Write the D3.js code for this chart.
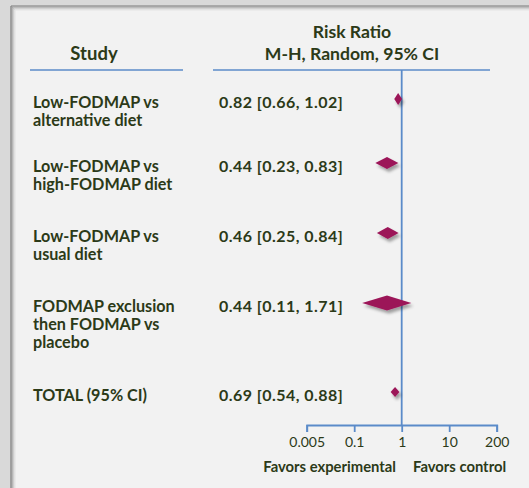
<!DOCTYPE html>
<html>
<head>
<meta charset="utf-8">
<script src="https://cdn.jsdelivr.net/npm/d3@7"></script>
<style>
  body { margin: 0; background: #d9d9d9; }
  svg { display: block; font-family: Lato, "Open Sans", sans-serif; }
</style>
</head>
<body>
<svg id="chart" width="529" height="488"></svg>
<script>
// data
let studies = [
  ["Low-FODMAP vs", "alternative diet"],
  ["Low-FODMAP vs", "high-FODMAP diet"],
  ["Low-FODMAP vs", "usual diet"],
  ["FODMAP exclusion", "then FODMAP vs", "placebo"],
  ["TOTAL (95% CI)"]
];
let rr    = [0.82, 0.44, 0.46, 0.44, 0.69];
let lower = [0.66, 0.23, 0.25, 0.11, 0.54];
let upper = [1.02, 0.83, 0.84, 1.71, 0.88];
let tickLabels = ["0.005", "0.1", "1", "10", "200"];

//---- layout
let textColor = "#2c3a18";
let lineColor = "#5b8bc9";
let diamondColor = "#9c1559";
let rowBase = [108, 172, 242, 312, 401];   // baseline of first text line per row
let diamondH = [12, 12, 12, 15, 10];
let axisY = 425, headY = 70;

let svg = d3.select("#chart");

// panel with shadowed border
let defs = svg.append("defs");
let f = defs.append("filter").attr("id", "shadow")
    .attr("x", "-50%").attr("y", "-50%").attr("width", "200%").attr("height", "200%");
f.append("feDropShadow").attr("dx", 2).attr("dy", 3).attr("stdDeviation", 1.5)
    .attr("flood-color", "#000").attr("flood-opacity", 0.35);

svg.append("rect").attr("width", 529).attr("height", 488).attr("fill", "#d9d9d9");
svg.append("rect").attr("x", 11).attr("y", 6).attr("width", 540).attr("height", 500).attr("fill", "#f2f2f2");
let borderShades = ["#7a7a7a", "#969696", "#b4b4b4", "#cfcfcf", "#e4e4e4"];
borderShades.forEach(function(c, i) {
  svg.append("line").attr("x1", 11 + i).attr("x2", 11 + i).attr("y1", 6 + i).attr("y2", 488)
      .attr("stroke", c).attr("stroke-width", 1.2);
  svg.append("line").attr("x1", 11 + i).attr("x2", 529).attr("y1", 6 + i).attr("y2", 6 + i)
      .attr("stroke", c).attr("stroke-width", 1.2);
});

let x = d3.scaleLog().domain([0.005, 200]).range([306.7, 496.7]);
// displayed axis is stylised: ticks equally spaced
let xTick = d3.scalePoint().domain(tickLabels).range([306.7, 496.7]);

// headers
svg.append("text").attr("x", 94).attr("y", 60).attr("text-anchor", "middle")
    .attr("font-weight", "bold").attr("font-size", 18.5).attr("fill", textColor).text("Study");
svg.append("text").attr("x", 352).attr("y", 38).attr("text-anchor", "middle")
    .attr("font-weight", "bold").attr("font-size", 17.6).attr("fill", textColor).text("Risk Ratio");
svg.append("text").attr("x", 352).attr("y", 60).attr("text-anchor", "middle")
    .attr("font-weight", "bold").attr("font-size", 17.6).attr("fill", textColor).text("M-H, Random, 95% CI");

svg.append("line").attr("x1", 30).attr("x2", 183).attr("y1", headY).attr("y2", headY)
    .attr("stroke", lineColor).attr("stroke-width", 1.5);
svg.append("line").attr("x1", 213).attr("x2", 490).attr("y1", headY).attr("y2", headY)
    .attr("stroke", lineColor).attr("stroke-width", 1.5);
svg.append("line").attr("x1", x(1)).attr("x2", x(1)).attr("y1", headY).attr("y2", axisY)
    .attr("stroke", lineColor).attr("stroke-width", 1.8);

// study labels
let rows = svg.append("g").selectAll("g.row")
    .data(studies).enter().append("g").attr("class", "row");

rows.append("text")
    .attr("x", 33)
    .attr("y", function(d, i) { return rowBase[i]; })
    .attr("font-weight", "bold").attr("font-size", 16.2).attr("fill", textColor)
  .selectAll("tspan").data(function(d) { return d; }).enter().append("tspan")
    .attr("x", 33).attr("dy", function(d, j) { return j == 0 ? 0 : 18; })
    .text(function(d) { return d; });

rows.append("text")
    .attr("x", 219)
    .attr("y", function(d, i) { return rowBase[i]; })
    .attr("font-weight", "bold").attr("font-size", 16).attr("letter-spacing", 0.45)
    .attr("fill", textColor)
    .text(function(d, i) {
      return rr[i].toFixed(2) + " [" + lower[i].toFixed(2) + ", " + upper[i].toFixed(2) + "]";
    });

rows.append("path")
    .attr("fill", diamondColor)
    .attr("filter", "url(#shadow)")
    .attr("d", function(d, i) {
      let cy = rowBase[i] - 9, h = diamondH[i] / 2;
      return "M" + x(lower[i]) + "," + cy +
             "L" + x(rr[i]) + "," + (cy - h) +
             "L" + x(upper[i]) + "," + cy +
             "L" + x(rr[i]) + "," + (cy + h) + "Z";
    });

// axis
let axis = svg.append("g")
    .attr("transform", "translate(0," + axisY + ")")
    .call(d3.axisBottom(xTick).tickSize(7).tickSizeOuter(7).tickPadding(5));
axis.select(".domain").attr("stroke", lineColor).attr("stroke-width", 1.8);
axis.selectAll(".tick line").attr("stroke", lineColor).attr("stroke-width", 1.8);
axis.selectAll(".tick text")
    .attr("font-family", "Lato, sans-serif").attr("font-size", 14).attr("fill", textColor);

svg.append("text").attr("x", 396).attr("y", 472).attr("text-anchor", "end")
    .attr("font-weight", "bold").attr("font-size", 14.8).attr("fill", textColor).text("Favors experimental");
svg.append("text").attr("x", 413).attr("y", 472)
    .attr("font-weight", "bold").attr("font-size", 14.8).attr("fill", textColor).text("Favors control");
</script>
</body>
</html>
